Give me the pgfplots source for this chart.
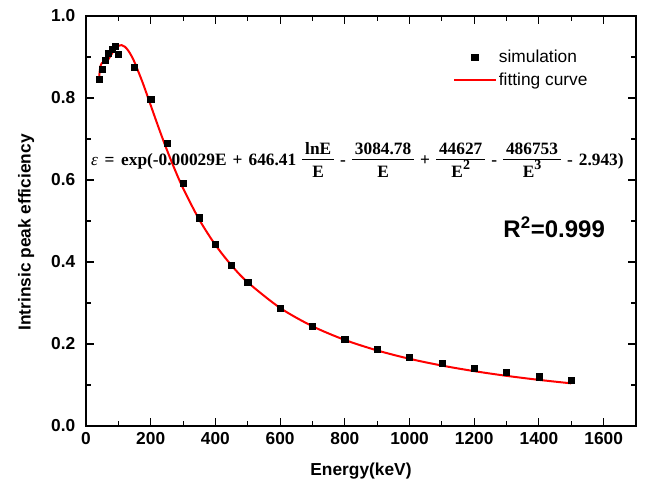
\documentclass[border=0pt]{standalone}
\usepackage{fontspec}
\setmainfont{Liberation Sans}
\newfontfamily\tnr{Liberation Serif}
\usepackage{pgfplots}
\pgfplotsset{compat=1.18}

\setlength\arrayrulewidth{0.7pt}
% fraction built from a one-column tabular, so it stays in the serif text font
\newcommand{\fr}[2]{$\vcenter{\hbox{\begin{tabular}{@{\,}c@{\,}}#1\\[-1pt]\hline\rule{0pt}{13pt}#2\end{tabular}}}$}
\newcommand{\sq}[1]{\raisebox{0.45em}{\fontsize{10.5}{10.5}\selectfont #1}}

\begin{document}
\begin{tikzpicture}
\begin{axis}[
    scale only axis,
    width=412.5pt, height=307.5pt,
    xmin=0, xmax=1700, ymin=0, ymax=1,
    clip=false,
    xtick={0,200,...,1600}, minor x tick num=1,
    ytick={0,0.2,0.4,0.6,0.8,1.0}, minor y tick num=1,
    tick align=inside,
    major tick length=6pt, minor tick length=3.5pt,
    axis line style={line width=0.9pt},
    every tick/.style={black, line width=0.8pt},
    /pgf/number format/assume math mode=true,
    xticklabel style={font=\bfseries\fontsize{13}{15}\selectfont, yshift=-1.5pt, /pgf/number format/1000 sep={}},
    yticklabel style={font=\bfseries\fontsize{13}{15}\selectfont, xshift=-4.5pt,
        /pgf/number format/.cd, fixed, fixed zerofill, precision=1},
    xlabel={Energy(keV)},
    ylabel={Intrinsic peak efficiency},
    label style={font=\bfseries\fontsize{13}{15}\selectfont},
    xlabel style={at={(axis description cs:0.5,-0.11)}, anchor=center},
    ylabel style={at={(axis description cs:-0.109,0.472)}, anchor=center},
    legend style={draw=none, fill=none, at={(rel axis cs:0.660,0.931)}, anchor=north west,
        font=\fontsize{13}{15}\selectfont, row sep=2.5pt},
    legend cell align=left,
    reverse legend,
    legend image code/.code={\draw[mark repeat=2,mark phase=2,#1] plot coordinates {(0cm,0cm) (0.54cm,0cm) (1.08cm,0cm)};},
]
% fitting curve values
\addplot[red, line width=1.5pt, smooth] coordinates {
    (40,0.8403) (42,0.8625) (45,0.8784) (50,0.8858) (55,0.8861) (60,0.8869)
    (70,0.8954) (80,0.9082) (90,0.9199) (100,0.9272) (110,0.9290) (120,0.9251)
    (130,0.9163) (140,0.9034) (150,0.8873) (175,0.8377) (200,0.7822) (225,0.7265)
    (250,0.6735) (275,0.6246) (300,0.5799) (350,0.5034) (400,0.4416) (450,0.3915)
    (500,0.3504) (600,0.2880) (700,0.2433) (800,0.2099) (900,0.1843) (1000,0.1639)
    (1100,0.1474) (1200,0.1338) (1300,0.1223) (1400,0.1125) (1500,0.1040)
};
\addlegendentry{fitting curve}
% simulation points
\addplot[only marks, mark=square*, mark size=2.3pt, black] coordinates {
    (40,0.845) (50,0.871) (60,0.892) (70,0.910) (80,0.918) (90,0.926) (100,0.907)
    (150,0.875) (200,0.796) (250,0.690) (300,0.592) (350,0.508) (400,0.443)
    (450,0.391) (500,0.350) (600,0.287) (700,0.243) (800,0.212) (900,0.188)
    (1000,0.168) (1100,0.153) (1200,0.140) (1300,0.130) (1400,0.120) (1500,0.112)
};
\addlegendentry{simulation}

\node[anchor=west, inner sep=0pt, font=\tnr\bfseries\fontsize{13}{15}\selectfont] at (axis cs:15,0.644)
    {\spaceskip=0.35em{\mdseries\itshape ε}\hspace{5pt}=\hspace{5pt}exp(-0.00029E + 646.41 \fr{lnE}{E} - \fr{3084.78}{E} + \fr{44627}{E\sq{2}} - \fr{486753}{E\sq{3}} - 2.943)};
\node[font=\bfseries\fontsize{18}{20}\selectfont] at (axis cs:1447,0.485) {R\textsuperscript{2}=0.999};
\end{axis}
\pgfresetboundingbox
\path (current axis.south west) ++(-64.5pt,-41.25pt) coordinate (bl);
\path (current axis.north east) ++(9pt,12pt) coordinate (tr);
\path[use as bounding box] (bl) rectangle (tr);
\end{tikzpicture}
\end{document}
